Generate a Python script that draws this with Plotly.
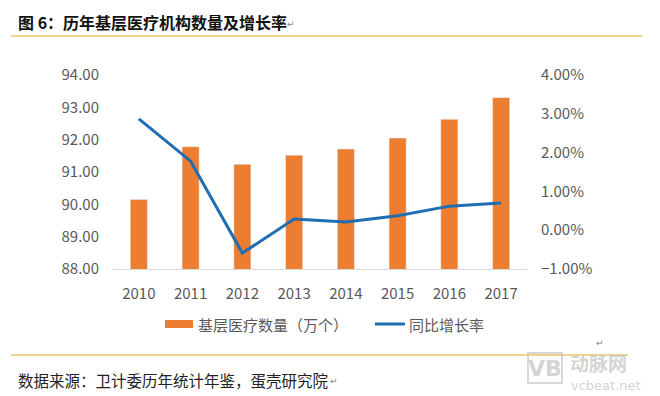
import plotly.graph_objects as go

years = ["2010", "2011", "2012", "2013", "2014", "2015", "2016", "2017"]
counts = [90.15, 91.78, 91.24, 91.52, 91.71, 92.05, 92.63, 93.30]          # 万个
growth = [0.0287, 0.0178, -0.0059, 0.0029, 0.0021, 0.0037, 0.0062, 0.0070]  # 同比增长率
left_ticks = [88, 89, 90, 91, 92, 93, 94]
right_ticks = [-0.01, 0.0, 0.01, 0.02, 0.03, 0.04]
bar_name = "基层医疗数量（万个）"
line_name = "同比增长率"

W, H = 660, 396
L, R, T, B = 113, 527, 75, 269

def xp(px):
    return (px - L) / (R - L)

def yp(py):
    return (B - py) / (B - T)

CJK = "Noto Sans CJK SC"
GRAY = "#595959"
ORANGE = "#ED7D31"
BLUE = "#1F6EB4"
GOLD = "#E9C46A"
WM = "rgba(200,200,200,0.8)"

fig = go.Figure()
fig.add_trace(go.Bar(x=years, y=counts, marker_color=ORANGE, width=0.33,
                     name=bar_name, showlegend=False, yaxis="y"))
fig.add_trace(go.Scatter(x=years, y=growth, mode="lines", line=dict(color=BLUE, width=3),
                         name=line_name, showlegend=False, yaxis="y2"))

fig.update_layout(
    width=W, height=H,
    margin=dict(l=L, r=W - R, t=T, b=H - B, pad=0),
    paper_bgcolor="white", plot_bgcolor="white",
    font=dict(family=CJK, color=GRAY, size=15),
    showlegend=False,
    xaxis=dict(type="category", range=[-0.5, 7.5], showgrid=False, showline=True,
               linecolor="#D9D9D9", linewidth=1, ticks="outside", ticklen=11,
               tickcolor="rgba(0,0,0,0)", tickfont=dict(size=15, color=GRAY), zeroline=False),
    yaxis=dict(range=[88, 94], tickvals=left_ticks, tickformat=".2f", showgrid=False,
               showline=False, zeroline=False, ticks="outside", ticklen=10,
               tickcolor="rgba(0,0,0,0)", tickfont=dict(size=15, color=GRAY)),
    yaxis2=dict(range=[-0.01, 0.04], tickvals=right_ticks, tickformat=".2%", overlaying="y",
                side="right", showgrid=False, showline=False, zeroline=False, ticks="outside",
                ticklen=10, tickcolor="rgba(0,0,0,0)", tickfont=dict(size=15, color=GRAY)),
)

shapes = [
    # header / footer rules
    dict(type="line", x0=xp(11), x1=xp(642), y0=yp(36), y1=yp(36),
         line=dict(color=GOLD, width=1.5)),
    dict(type="line", x0=xp(11), x1=xp(628), y0=yp(355), y1=yp(355),
         line=dict(color=GOLD, width=1.5)),
    # legend keys
    dict(type="rect", x0=xp(165), x1=xp(193), y0=yp(320), y1=yp(328),
         line=dict(width=0), fillcolor=ORANGE),
    dict(type="line", x0=xp(375), x1=xp(405), y0=yp(324), y1=yp(324),
         line=dict(color=BLUE, width=3)),
    # watermark box
    dict(type="rect", x0=xp(528), x1=xp(562), y0=yp(353), y1=yp(383),
         line=dict(color="rgba(200,200,200,0.7)", width=2), fillcolor="rgba(0,0,0,0)"),
]
for s in shapes:
    s.update(xref="paper", yref="paper")
fig.update_layout(shapes=shapes)

ann = [
    dict(text="<b>图 6：历年基层医疗机构数量及增长率</b>", x=xp(16), y=yp(22), xanchor="left",
         yanchor="middle", font=dict(family=CJK, size=16, color="#111111")),
    dict(text="↵", x=xp(285), y=yp(24), xanchor="left", yanchor="middle",
         font=dict(family="DejaVu Sans", size=9, color="#888888")),
    dict(text=bar_name, x=xp(196), y=yp(324), xanchor="left", yanchor="middle",
         font=dict(family=CJK, size=15, color=GRAY)),
    dict(text=line_name, x=xp(407), y=yp(324), xanchor="left", yanchor="middle",
         font=dict(family=CJK, size=15, color=GRAY)),
    dict(text="数据来源：卫计委历年统计年鉴，蛋壳研究院", x=xp(16), y=yp(380), xanchor="left",
         yanchor="middle", font=dict(family=CJK, size=15.5, color="#222222")),
    dict(text="↵", x=xp(328), y=yp(381), xanchor="left", yanchor="middle",
         font=dict(family="DejaVu Sans", size=9, color="#888888")),
    dict(text="↵", x=xp(594), y=yp(343), xanchor="left", yanchor="middle",
         font=dict(family="DejaVu Sans", size=9, color="#888888")),
    dict(text="<b>VB</b>", x=xp(545), y=yp(368), xanchor="center", yanchor="middle",
         font=dict(family="DejaVu Sans", size=22, color=WM)),
    dict(text="<b>动脉网</b>", x=xp(568), y=yp(362), xanchor="left", yanchor="middle",
         font=dict(family=CJK, size=19, color=WM)),
    dict(text="vcbeat.net", x=xp(569), y=yp(385), xanchor="left", yanchor="middle",
         font=dict(family="DejaVu Sans", size=13, color=WM)),
]
for a in ann:
    a.update(xref="paper", yref="paper", showarrow=False)
fig.update_layout(annotations=ann)

fig.write_html("out.html", config={"displayModeBar": False},
               post_script="document.body.style.margin='0';document.body.style.overflow='hidden';")
